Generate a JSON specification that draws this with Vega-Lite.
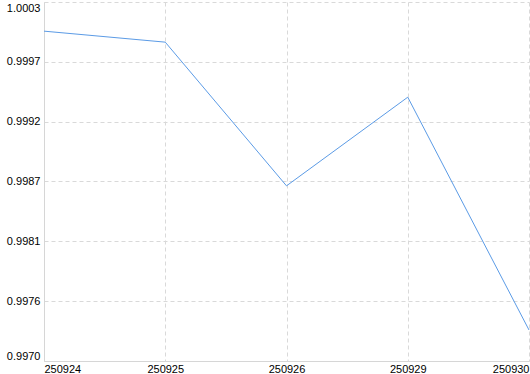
{
  "$schema": "https://vega.github.io/schema/vega-lite/v6.json",
  "width": 485,
  "height": 359,
  "autosize": {"type": "none"},
  "padding": {"left": 44, "top": 2, "right": 1, "bottom": 13},
  "background": "white",
  "config": {
    "view": {"stroke": null},
    "font": "Liberation Sans",
    "axis": {
      "labelFont": "Liberation Sans",
      "labelFontSize": 11,
      "labelColor": "#000000",
      "domainColor": "#d6d6d6",
      "gridColor": "#d9d9d9",
      "gridDash": [4, 3],
      "ticks": false,
      "title": null,
      "labelFlush": true
    }
  },
  "data": {
    "values": [
      {"date": "250924", "value": 1.000032},
      {"date": "250925", "value": 0.999931},
      {"date": "250926", "value": 0.99861},
      {"date": "250929", "value": 0.999425},
      {"date": "250930", "value": 0.997285}
    ]
  },
  "mark": {"type": "line", "color": "#5b9be6", "strokeWidth": 1},
  "encoding": {
    "x": {
      "field": "date",
      "type": "ordinal",
      "scale": {"type": "point", "padding": 0},
      "axis": {"labelAngle": 0, "labelPadding": 2, "grid": true}
    },
    "y": {
      "field": "value",
      "type": "quantitative",
      "scale": {"domain": [0.997, 1.0003], "zero": false, "nice": false},
      "axis": {
        "values": [0.997, 0.99755, 0.9981, 0.99865, 0.9992, 0.99975, 1.0003],
        "format": ".4f",
        "labelExpr": "datum.value > 0.99974 && datum.value < 0.99976 ? '0.9997' : format(datum.value, '.4f')",
        "labelPadding": 4,
        "grid": true
      }
    }
  }
}
